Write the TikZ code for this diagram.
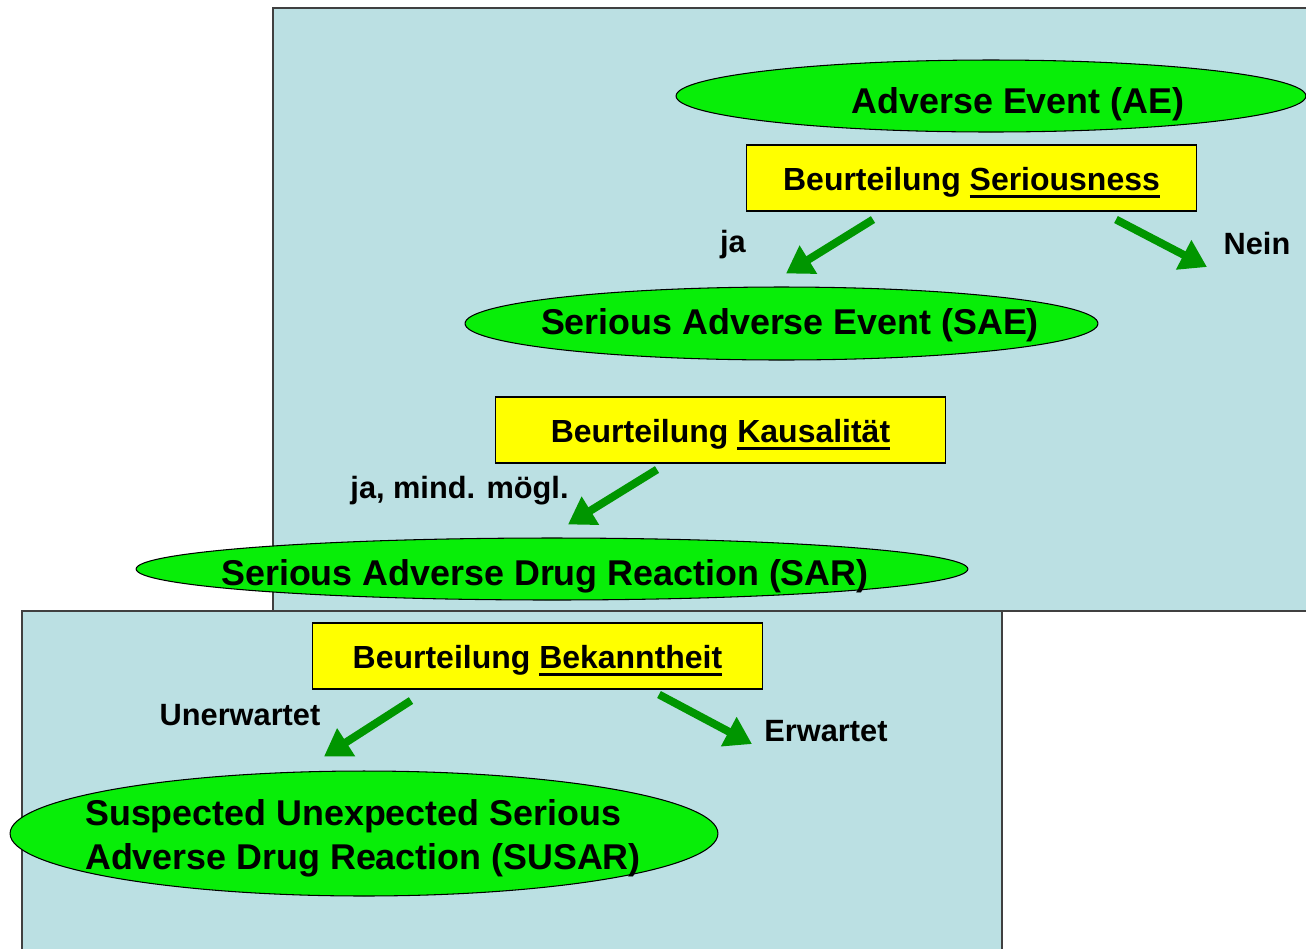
\documentclass[tikz,border=0pt]{standalone}
\usepackage{fontspec}
\setmainfont{Liberation Sans}
\usetikzlibrary{shapes.geometric,arrows.meta,calc}

\definecolor{panelblue}{RGB}{187,224,227}
\definecolor{eventgreen}{RGB}{8,238,8}
\definecolor{checkyellow}{RGB}{255,255,0}
\definecolor{arrowgreen}{RGB}{0,150,0}

\newcommand{\thickul}[1]{\setbox0\hbox{#1}\rlap{\rule[-4.2pt]{\wd0}{1.8pt}}\box0}

\begin{document}
\begin{tikzpicture}[x=0.02cm, y=-0.02cm,
	panel/.style={draw=black!75, line width=0.7pt, fill=panelblue},
	event/.style={ellipse, draw, line width=0.6pt, fill=eventgreen, inner sep=0pt},
	evtext/.style={font=\fontsize{20.4}{25}\selectfont\bfseries},
	check/.style={rectangle, draw, line width=0.6pt, fill=checkyellow, minimum width=9.02cm, minimum height=1.32cm, text height=14.6pt, text depth=0pt, font=\fontsize{18.2}{22}\selectfont\bfseries},
	answer/.style={font=\fontsize{17.5}{21}\selectfont\bfseries},
	flow/.style={draw=arrowgreen, line width=4.5pt, -{Triangle[length=15pt,width=18pt]}}]

\useasboundingbox (0,0) rectangle (1306,948);

% panels
\fill[white] (0,0) rectangle (1306,948);
\draw[panel] (273,8) rectangle (1330,611);
\draw[panel] (22,611) rectangle (1002,970);

% events
	\node [event, minimum width=12.6cm, minimum height=1.44cm] (AE) at (991,96) {};
	\node [evtext] (AEtext) at (1018,104) {Adverse Event (AE)};

	\node [event, minimum width=12.66cm, minimum height=1.46cm] (SAE) at (781.5,323.5) {};
	\node [evtext] (SAEtext) at (790,325) {Serious Adverse Event (SAE)};

	\node [event, minimum width=16.64cm, minimum height=1.24cm] (SAR) at (552,569) {};
	\node [evtext] (SARtext) at (545,576) {Serious Adverse Drug Reaction (SAR)};

	\node [event, minimum width=14.16cm, minimum height=2.5cm] (SUSAR) at (364,833.5) {};
	\node [evtext, align=left, anchor=west] (SUSARtext) at (79,838) {Suspected Unexpected Serious\\Adverse Drug Reaction (SUSAR)};

% checks
	\node [check] (seri) at (971.5,178) {Beurteilung \thickul{Seriousness}};
	\node [check] (kaus) at (720.5,430) {Beurteilung \thickul{Kausalität}};
	\node [check] (bek) at (537.5,656) {Beurteilung \thickul{Bekanntheit}};

% answers
	\node [answer] (ja) at (733,245) {ja};
	\node [answer] (nein) at (1257,244) {Nein};
	\node [answer] (moegl) at (459.5,491) {ja, mind. mögl.};
	\node [answer] (unerw) at (240,715) {Unerwartet};
	\node [answer] (erw) at (826,731) {Erwartet};

	\coordinate (neinEnd) at (1207,267);
	\coordinate (erwEnd) at (752,744);

\draw[flow] ($(seri.south)+(-98.5,8)$) -- ($(SAE.north)+(4.5,-13)$);
\draw[flow] ($(seri.south)+(144.5,8)$) -- (neinEnd);
\draw[flow] ($(kaus.south)+(-63.5,6)$) -- ($(SAR.north)+(16,-13)$);
\draw[flow] ($(bek.south)+(-126.5,11)$) -- ($(SUSAR.north)+(-40,-14)$);
\draw[flow] ($(bek.south)+(121.5,5)$) -- (erwEnd);

\end{tikzpicture}
\end{document}
